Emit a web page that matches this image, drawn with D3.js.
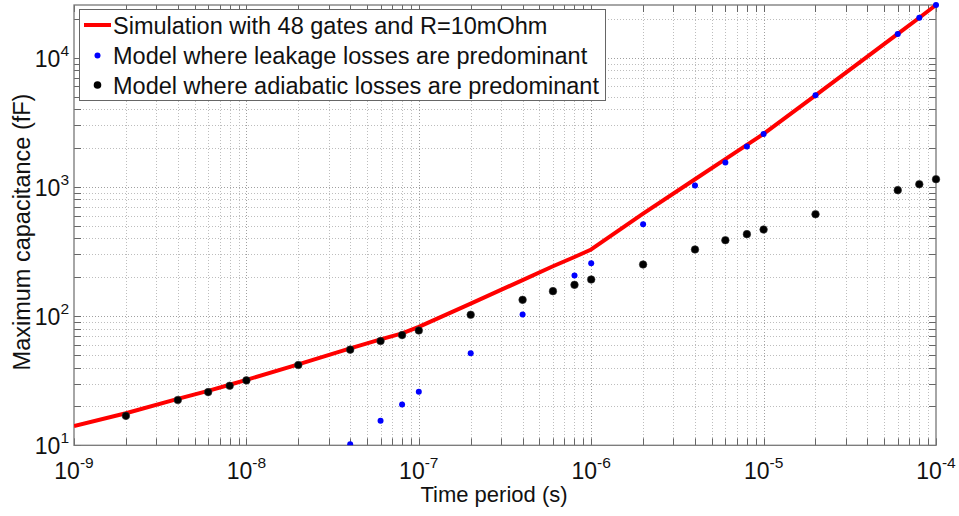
<!DOCTYPE html>
<html><head><meta charset="utf-8">
<script src="https://cdn.jsdelivr.net/npm/d3@7"></script>
<style>
body{margin:0;background:#fff;}
text{font-family:"Liberation Sans",Arial,sans-serif;}
</style></head>
<body><svg id="c" width="959" height="516"></svg>
<script>
const simT = [1e-9,2e-9,4e-9,6e-9,8e-9,1e-8,2e-8,4e-8,6e-8,8e-8,1e-7,2e-7,4e-7,6e-7,8e-7,1e-6,2e-6,4e-6,6e-6,8e-6,1e-5,2e-5,6e-5,8e-5,1e-4];
const simC = [14.1,17.7,22.9,26.4,29.4,32.1,42.3,56.2,66.1,73.5,82.6,125,190,243,287,328,622,1147,1639,2115,2572,5120,15300,20400,25600];
const leakT = [4e-8,6e-8,8e-8,1e-7,2e-7,4e-7,8e-7,1e-6,2e-6,4e-6,6e-6,8e-6,1e-5,2e-5,6e-5,8e-5,1e-4];
const leakC = [10.2,15.5,20.7,26,51.5,103,206,257,514,1026,1545,2054,2572,5120,15300,20400,25600];
const adiaT = [2e-9,4e-9,6e-9,8e-9,1e-8,2e-8,4e-8,6e-8,8e-8,1e-7,2e-7,4e-7,6e-7,8e-7,1e-6,2e-6,4e-6,6e-6,8e-6,1e-5,2e-5,6e-5,8e-5,1e-4];
const adiaC = [16.9,22.4,25.8,28.9,31.8,41.8,55,64.1,71.3,77.4,102.4,133.6,156,174.6,192,251,328,387,431,468,615,944,1050,1148];
const xTickExps = [-9,-8,-7,-6,-5,-4];
const yTickExps = [1,2,3,4];
const legendLabels = ["Simulation with 48 gates and R=10mOhm","Model where leakage losses are predominant","Model where adiabatic losses are predominant"];
const xLabel = "Time period (s)";
const yLabel = "Maximum capacitance (fF)";

const L=74, R=936, T=5, B=445.3;
const svg = d3.select("#c");
const x = d3.scaleLog().domain([1e-9,1e-4]).range([L,R]);
const y = d3.scaleLog().domain([10,25600]).range([B,T]);

const xMinor=[], yMinor=[];
for(let e=-9;e<-4;e++) for(let m=2;m<=9;m++) xMinor.push(m*Math.pow(10,e));
for(let e=1;e<5;e++) for(let m=2;m<=9;m++){const v=m*Math.pow(10,e); if(v<=25600) yMinor.push(v);}
const xMajor = xTickExps.map(e=>Math.pow(10,e));
const yMajor = yTickExps.map(e=>Math.pow(10,e));

const grid = svg.append("g");
const gAll = (vals, col) => {
  grid.selectAll(null).data(vals.filter(v=>x(v)>L+0.5&&x(v)<R-0.5)).enter().append("line")
    .attr("x1",d=>Math.round(x(d))+0.5).attr("x2",d=>Math.round(x(d))+0.5).attr("y1",T).attr("y2",B)
    .attr("stroke",col).attr("stroke-width",1).attr("stroke-dasharray","1,2");
};
gAll(xMinor,"#bdbdbd"); gAll(xMajor,"#a0a0a0");
const gAllY = (vals, col) => {
  grid.selectAll(null).data(vals.filter(v=>y(v)>T+0.5&&y(v)<B-0.5)).enter().append("line")
    .attr("y1",d=>Math.round(y(d))+0.5).attr("y2",d=>Math.round(y(d))+0.5).attr("x1",L).attr("x2",R)
    .attr("stroke",col).attr("stroke-width",1).attr("stroke-dasharray","1,2");
};
gAllY(yMinor,"#bdbdbd"); gAllY(yMajor,"#a0a0a0");

const tk = svg.append("g").attr("stroke","#666").attr("stroke-width",1);
const tl = 7;
[...xMinor, ...xMajor].forEach(v=>{
  const px=Math.round(x(v))+0.5;
  tk.append("line").attr("x1",px).attr("x2",px).attr("y1",B).attr("y2",B-tl);
  tk.append("line").attr("x1",px).attr("x2",px).attr("y1",T).attr("y2",T+tl);
});
[...yMinor, ...yMajor].forEach(v=>{
  const py=Math.round(y(v))+0.5;
  tk.append("line").attr("y1",py).attr("y2",py).attr("x1",L).attr("x2",L+tl);
  tk.append("line").attr("y1",py).attr("y2",py).attr("x1",R).attr("x2",R-tl);
});
svg.append("rect").attr("x",L).attr("y",T).attr("width",R-L).attr("height",B-T)
  .attr("fill","none").attr("stroke","#777").attr("stroke-width",1.3);

xTickExps.forEach(e=>{
  const t = svg.append("text").attr("x",x(Math.pow(10,e))).attr("y",479).attr("text-anchor","middle")
    .attr("font-size",23).attr("fill","#111");
  t.append("tspan").text("10");
  t.append("tspan").attr("dy",-11).attr("font-size",15.5).text(String(e));
});
yTickExps.forEach(e=>{
  const t = svg.append("text").attr("x",69).attr("y",y(Math.pow(10,e))+9).attr("text-anchor","end")
    .attr("font-size",23).attr("fill","#111");
  t.append("tspan").text("10");
  t.append("tspan").attr("dy",-11).attr("font-size",15.5).text(String(e));
});

svg.append("text").attr("x",494).attr("y",502).attr("text-anchor","middle").attr("font-size",22)
  .attr("fill","#111").text(xLabel);
svg.append("text").attr("transform","translate(30,232) rotate(-90)").attr("text-anchor","middle")
  .attr("font-size",23.5).attr("fill","#111").text(yLabel);

svg.append("clipPath").attr("id","clip").append("rect").attr("x",L).attr("y",T-6).attr("width",R-L+6).attr("height",B-T+6);
const plot = svg.append("g").attr("clip-path","url(#clip)");
const line = d3.line().x(d=>x(d[0])).y(d=>y(d[1]));
plot.append("path").datum(simT.map((t,i)=>[t,simC[i]])).attr("d",line)
  .attr("fill","none").attr("stroke","#ff0000").attr("stroke-width",4).attr("stroke-linejoin","round");
plot.selectAll(null).data(leakT.map((t,i)=>[t,leakC[i]])).enter().append("circle")
  .attr("cx",d=>x(d[0])).attr("cy",d=>y(d[1])).attr("r",3).attr("fill","#0000ff");
plot.selectAll(null).data(adiaT.map((t,i)=>[t,adiaC[i]])).enter().append("circle")
  .attr("cx",d=>x(d[0])).attr("cy",d=>y(d[1])).attr("r",3.8).attr("fill","#000").attr("stroke","#333").attr("stroke-width",0.6);

const lg = svg.append("g");
lg.append("rect").attr("x",79.5).attr("y",9.5).attr("width",526).attr("height",91)
  .attr("fill","#fff").attr("stroke","#666").attr("stroke-width",1);
const rows=[25,55.5,85];
lg.append("line").attr("x1",84).attr("x2",111).attr("y1",rows[0]).attr("y2",rows[0]).attr("stroke","#ff0000").attr("stroke-width",4);
lg.append("circle").attr("cx",97.5).attr("cy",rows[1]).attr("r",3).attr("fill","#0000ff");
lg.append("circle").attr("cx",97.5).attr("cy",rows[2]).attr("r",3.8).attr("fill","#000");
legendLabels.forEach((s,i)=>{
  lg.append("text").attr("x",113).attr("y",rows[i]+8.5).attr("font-size",23.5).attr("fill","#111").text(s);
});
</script></body></html>
